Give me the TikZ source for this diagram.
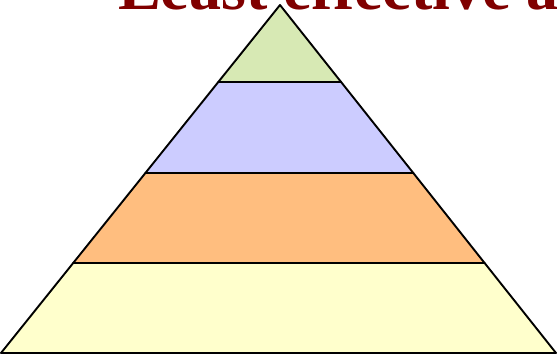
\documentclass[tikz,border=0pt]{standalone}
\usepackage{fontspec}
\setmainfont{Liberation Serif}
\begin{document}
\begin{tikzpicture}[x=1pt,y=-1pt,
  band/.style={draw=black,line width=1.9pt,line join=round}]
\definecolor{lgreen}{RGB}{215,233,180}
\definecolor{lblue}{RGB}{204,204,255}
\definecolor{lorange}{RGB}{255,190,127}
\definecolor{lyellow}{RGB}{255,255,204}
\definecolor{titlered}{RGB}{128,0,0}
\useasboundingbox (0,0) rectangle (557,357);
\clip (0,0) rectangle (557,357);
\coordinate (apex) at (280,5);
\coordinate (l1) at (218.3,82); \coordinate (r1) at (341.1,82);
\coordinate (l2) at (145.4,173); \coordinate (r2) at (413.3,173);
\coordinate (l3) at (73.2,263); \coordinate (r3) at (484.6,263);
\coordinate (l4) at (1,353); \coordinate (r4) at (556,353);
\filldraw[band,fill=lyellow] (l3) -- (r3) -- (r4) -- (l4) -- cycle;
\filldraw[band,fill=lorange] (l2) -- (r2) -- (r3) -- (l3) -- cycle;
\filldraw[band,fill=lblue] (l1) -- (r1) -- (r2) -- (l2) -- cycle;
\filldraw[band,fill=lgreen] (apex) -- (r1) -- (l1) -- cycle;
\node[anchor=base west,inner sep=0pt,font=\fontsize{64}{64}\selectfont\bfseries,text=titlered] (title) at (118,9) {Least effective a};
\end{tikzpicture}
\end{document}
